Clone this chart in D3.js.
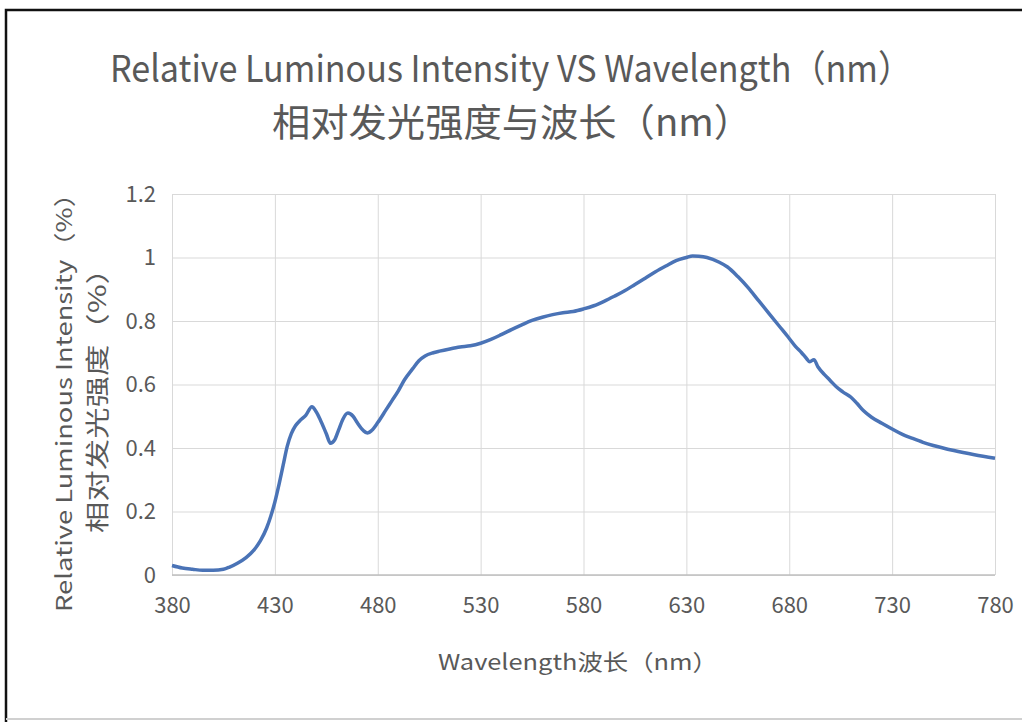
<!DOCTYPE html>
<html>
<head>
<meta charset="utf-8">
<script src="https://cdn.jsdelivr.net/npm/d3@7"></script>
<style>
  body { margin: 0; background: #fff; }
  svg text { fill: #595959; font-family: "Noto Sans CJK SC", "Noto Sans", sans-serif; }
  .grid line { stroke: #d9d9d9; }
  .grid path { display: none; }
</style>
</head>
<body>
<div id="chart"></div>
<script>
// wavelength (nm)
var wavelength = [380, 385, 390, 395, 400, 405, 408, 412, 416, 420, 423, 426, 428, 430, 432, 434, 436, 438, 440, 442, 445, 448,
  450, 452, 455, 457, 459, 461, 463, 465.5, 468, 470, 473, 475, 477, 480, 484, 487, 490, 493, 497, 500,
  503, 507, 510, 515, 520, 525, 530, 535, 540, 545, 550, 555, 560, 565, 570, 575, 580, 585, 590, 595,
  600, 605, 610, 615, 620, 625, 630, 633, 636, 640, 646, 650, 655, 660, 665, 670, 675, 680, 683, 686,
  688, 690, 692, 694, 697, 700, 703, 706, 710, 713, 716, 720, 725, 730, 735, 740, 745, 750, 760, 770, 780];
// relative intensity
var intensity = [0.03, 0.022, 0.018, 0.015, 0.015, 0.018, 0.025, 0.038, 0.055, 0.08, 0.108, 0.148, 0.185, 0.23, 0.285, 0.345, 0.405, 0.445, 0.47, 0.485, 0.503, 0.53,
  0.515, 0.49, 0.445, 0.415, 0.425, 0.457, 0.49, 0.51, 0.5, 0.48, 0.455, 0.447, 0.455, 0.48, 0.52, 0.55, 0.58, 0.615, 0.65, 0.675,
  0.69, 0.70, 0.705, 0.712, 0.718, 0.722, 0.73, 0.742, 0.757, 0.773, 0.788, 0.802, 0.812, 0.82, 0.826, 0.83, 0.838, 0.848, 0.862, 0.878,
  0.895, 0.915, 0.935, 0.955, 0.973, 0.99, 1.0, 1.005, 1.004, 1.0, 0.985, 0.97, 0.94, 0.905, 0.865, 0.825, 0.785, 0.745, 0.72, 0.7,
  0.685, 0.672, 0.678, 0.655, 0.632, 0.612, 0.592, 0.577, 0.56, 0.54, 0.518, 0.497, 0.478, 0.46, 0.443, 0.43, 0.418, 0.408, 0.392, 0.379, 0.368];
var xTicks = [380, 430, 480, 530, 580, 630, 680, 730, 780];
var yTicks = [0, 0.2, 0.4, 0.6, 0.8, 1, 1.2];

var W = 1022, H = 722;
var plot = { left: 172, right: 995, top: 194, bottom: 575 };

var svg = d3.select('#chart').append('svg')
  .attr('width', W)
  .attr('height', H);

var x = d3.scaleLinear().domain([380, 780]).range([plot.left, plot.right]);
var y = d3.scaleLinear().domain([0, 1.2]).range([plot.bottom, plot.top]);

// outer frame
svg.append('path')
  .attr('d', 'M6,' + H + 'V10H' + W)
  .attr('fill', 'none')
  .attr('stroke', '#111')
  .attr('stroke-width', 2.5);
svg.append('line')
  .attr('x1', 6).attr('x2', W).attr('y1', 719).attr('y2', 719)
  .attr('stroke', '#d0d0d0').attr('stroke-width', 2);

// gridlines
svg.append('g')
  .attr('class', 'grid')
  .attr('transform', 'translate(0,' + plot.bottom + ')')
  .call(d3.axisBottom(x).tickValues(xTicks).tickSize(-(plot.bottom - plot.top)).tickFormat(''));
svg.append('g')
  .attr('class', 'grid')
  .attr('transform', 'translate(' + plot.left + ',0)')
  .call(d3.axisLeft(y).tickValues(yTicks).tickSize(-(plot.right - plot.left)).tickFormat(''));

// bottom axis line
svg.append('line')
  .attr('x1', plot.left).attr('x2', plot.right)
  .attr('y1', plot.bottom).attr('y2', plot.bottom)
  .attr('stroke', '#bfbfbf').attr('stroke-width', 1.5);

// tick labels
var xAxis = svg.append('g')
  .attr('transform', 'translate(0,' + plot.bottom + ')')
  .call(d3.axisBottom(x).tickValues(xTicks).tickSize(0).tickPadding(22));
xAxis.select('.domain').remove();
xAxis.selectAll('text').attr('font-size', 22).attr('font-family', '"Noto Sans", sans-serif').attr('fill', '#595959');

var yAxis = svg.append('g')
  .attr('transform', 'translate(' + plot.left + ',0)')
  .call(d3.axisLeft(y).tickValues(yTicks).tickSize(0).tickPadding(16).tickFormat(d3.format('~g')));
yAxis.select('.domain').remove();
yAxis.selectAll('text').attr('font-size', 22).attr('font-family', '"Noto Sans", sans-serif').attr('fill', '#595959');

// the curve
var line = d3.line()
  .x(function(d, i) { return x(wavelength[i]); })
  .y(function(d) { return y(d); })
  .curve(d3.curveMonotoneX);
svg.append('path')
  .datum(intensity)
  .attr('d', line)
  .attr('fill', 'none')
  .attr('stroke', '#4a73b6')
  .attr('stroke-width', 3.5)
  .attr('stroke-linejoin', 'round');

// titles
svg.append('text')
  .attr('x', 511).attr('y', 82)
  .attr('text-anchor', 'middle')
  .attr('font-size', 37)
  .attr('textLength', 802).attr('lengthAdjust', 'spacingAndGlyphs')
  .text('Relative Luminous Intensity VS Wavelength（nm）');
svg.append('text')
  .attr('x', 512).attr('y', 136)
  .attr('text-anchor', 'middle')
  .attr('font-size', 38)
  .attr('textLength', 480).attr('lengthAdjust', 'spacingAndGlyphs')
  .text('相对发光强度与波长（nm）');

// axis titles
svg.append('text')
  .attr('x', 578).attr('y', 670)
  .attr('text-anchor', 'middle')
  .attr('font-size', 22)
  .attr('textLength', 280).attr('lengthAdjust', 'spacingAndGlyphs')
  .text('Wavelength波长（nm）');
svg.append('text')
  .attr('transform', 'translate(72,396) rotate(-90)')
  .attr('text-anchor', 'middle')
  .attr('font-size', 22)
  .attr('textLength', 432).attr('lengthAdjust', 'spacingAndGlyphs')
  .text('Relative Luminous Intensity（%）');
svg.append('text')
  .attr('transform', 'translate(106,393) rotate(-90)')
  .attr('text-anchor', 'middle')
  .attr('font-size', 24)
  .attr('textLength', 280).attr('lengthAdjust', 'spacingAndGlyphs')
  .text('相对发光强度（%）');
</script>
</body>
</html>
